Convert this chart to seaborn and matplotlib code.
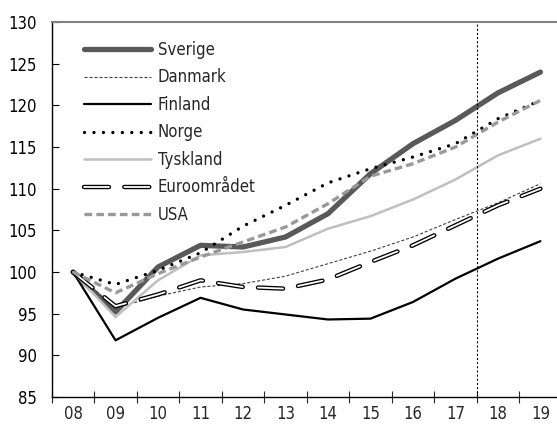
import numpy as np
import pandas as pd
import matplotlib
matplotlib.use("Agg")
import matplotlib.pyplot as plt
import matplotlib.patheffects as pe
import seaborn as sns

years = ["08", "09", "10", "11", "12", "13", "14", "15", "16", "17", "18", "19"]
sverige = [100, 95.2, 100.6, 103.2, 103.0, 104.2, 107.0, 111.8, 115.4, 118.2, 121.5, 124.0]
danmark = [100, 95.7, 97.1, 98.2, 98.6, 99.5, 101.0, 102.5, 104.2, 106.3, 108.3, 110.6]
finland = [100, 91.8, 94.5, 96.9, 95.5, 94.9, 94.3, 94.4, 96.4, 99.2, 101.6, 103.7]
norge = [100, 98.5, 100.2, 102.3, 105.5, 108.0, 110.7, 112.4, 113.8, 115.4, 118.4, 120.6]
tyskland = [100, 94.6, 99.0, 102.0, 102.4, 103.0, 105.2, 106.7, 108.7, 111.1, 114.0, 116.0]
euro = [100, 95.9, 97.3, 99.0, 98.2, 98.0, 99.1, 101.2, 103.2, 105.6, 108.0, 110.0]
usa = [100, 97.5, 99.8, 101.8, 103.6, 105.4, 108.2, 111.5, 113.0, 115.0, 118.0, 120.6]

plt.rcParams["lines.scale_dashes"] = False
sns.set_style("ticks")
plt.rcParams["font.family"] = ["DejaVu Sans"]
plt.rcParams["font.stretch"] = "condensed"
plt.rcParams["font.size"] = 12

x = np.arange(len(years))

fig = plt.figure(figsize=(5.57, 4.25), dpi=100)
ax = fig.add_axes([0.093, 0.066, 0.907, 0.882])

sns.lineplot(x=x, y=sverige, ax=ax, color="#595959", lw=3.8, label="Sverige",
             solid_capstyle="round", solid_joinstyle="round")
sns.lineplot(x=x, y=danmark, ax=ax, color="#404040", lw=0.8, label="Danmark")
ax.lines[-1].set_dashes((2.2, 1.4))
sns.lineplot(x=x, y=finland, ax=ax, color="black", lw=1.6, label="Finland")
sns.lineplot(x=x, y=norge, ax=ax, color="black", lw=2.4, label="Norge")
ax.lines[-1].set_dashes((0.01, 6.8))
ax.lines[-1].set_dash_capstyle("round")
sns.lineplot(x=x, y=tyskland, ax=ax, color="#bfbfbf", lw=1.8, label="Tyskland")
# euro: white dashes with a black outline
sns.lineplot(x=x, y=euro, ax=ax, color="white", lw=1.3, label="Euroområdet")
ax.lines[-1].set_dashes((18, 11))
ax.lines[-1].set_dash_capstyle("round")
ax.lines[-1].set_path_effects([pe.Stroke(linewidth=3.2, foreground="black"), pe.Normal()])
sns.lineplot(x=x, y=usa, ax=ax, color="#999999", lw=2.4, label="USA")
ax.lines[-1].set_dashes((5.5, 3))

ax.axvline(9.5, color="black", lw=0.8, dashes=(1.5, 1.5))

ax.set_xlim(-0.5, 11.39)
ax.set_ylim(85, 130)
ax.set_yticks(np.arange(85, 131, 5))
ax.tick_params(axis="y", direction="in", length=5, width=0.8, colors="black", labelsize=12, pad=11)
ax.set_xticks(np.arange(-0.5, 11.5, 1.0))
ax.set_xticklabels([])
ax.set_xticks(x, minor=True)
ax.set_xticklabels(years, minor=True)
ax.tick_params(axis="x", which="major", direction="inout", length=8, width=0.8)
ax.tick_params(axis="x", which="minor", length=0, labelsize=12, pad=6)

for s in ["left", "bottom"]:
    ax.spines[s].set_color("black")
    ax.spines[s].set_linewidth(1.0)
ax.spines["top"].set_color("#808080")
ax.spines["top"].set_linewidth(1.5)
ax.spines["right"].set_visible(False)

leg = ax.legend(loc="upper left", bbox_to_anchor=(0.035, 0.99), frameon=False,
                handlelength=4.0, handletextpad=0.4, labelspacing=0.57, fontsize=12)

fig.savefig("out.png", dpi=100)
